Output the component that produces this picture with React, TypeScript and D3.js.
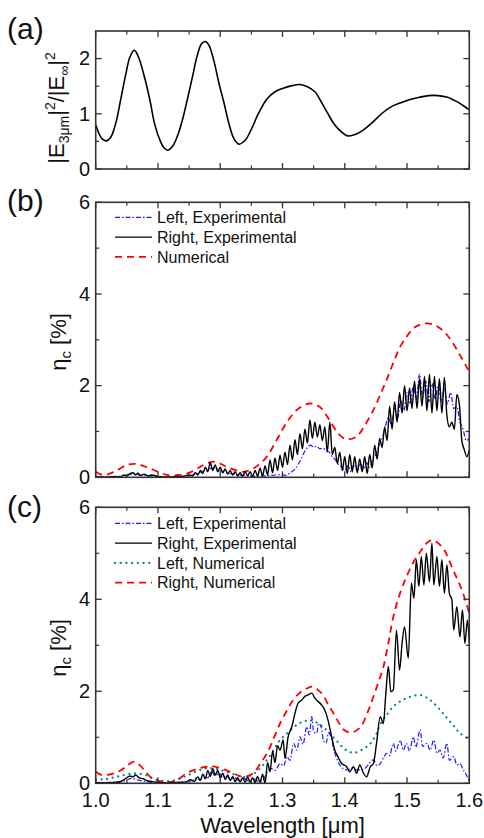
import React from 'react';
import * as d3 from 'd3';

const FONT = '"Liberation Sans", Arial, Helvetica, sans-serif';

// shared x axis (wavelength, um)
const xDomain: [number, number] = [1.0, 1.6];
const xMajorTicks = [1.0, 1.1, 1.2, 1.3, 1.4, 1.5, 1.6];
const xMinorTicks = [1.05, 1.15, 1.25, 1.35, 1.45, 1.55];
const xTickLabels = ['1.0', '1.1', '1.2', '1.3', '1.4', '1.5', '1.6'];

// (a) field enhancement
const fieldTicks = [0, 1, 2];
const fieldMinor = [0.5, 1.5];
const fieldCurve: [number, number][] = [
  [1.000, 0.80], [1.005, 0.65], [1.010, 0.55], [1.017, 0.51], [1.024, 0.57], [1.032, 0.82],
  [1.040, 1.25], [1.048, 1.70], [1.055, 2.03], [1.062, 2.15], [1.069, 2.02], [1.078, 1.68],
  [1.087, 1.25], [1.095, 0.80], [1.104, 0.50], [1.110, 0.38], [1.116, 0.34], [1.124, 0.42],
  [1.132, 0.62], [1.140, 0.92], [1.147, 1.25], [1.155, 1.65], [1.163, 2.05], [1.170, 2.27],
  [1.176, 2.31], [1.182, 2.24], [1.190, 1.95], [1.198, 1.55], [1.206, 1.20], [1.214, 0.82],
  [1.222, 0.55], [1.230, 0.45], [1.240, 0.52], [1.250, 0.72], [1.262, 1.02], [1.275, 1.27],
  [1.288, 1.40], [1.300, 1.46], [1.315, 1.51], [1.328, 1.53], [1.340, 1.49], [1.352, 1.40],
  [1.362, 1.22], [1.372, 1.02], [1.382, 0.83], [1.392, 0.70], [1.405, 0.60], [1.418, 0.63],
  [1.430, 0.71], [1.445, 0.85], [1.460, 1.01], [1.475, 1.13], [1.490, 1.20], [1.505, 1.26],
  [1.520, 1.30], [1.535, 1.33], [1.550, 1.33], [1.565, 1.30], [1.580, 1.22], [1.590, 1.15],
  [1.600, 1.07],
];

// (b) and (c) efficiency, %
const etaTicks = [0, 2, 4, 6];
const etaMinor = [1, 3, 5];

const bNumerical: [number, number][] = [
  [1.000, 0.12], [1.012, 0.05], [1.030, 0.12], [1.050, 0.27], [1.066, 0.29], [1.080, 0.23],
  [1.093, 0.16], [1.105, 0.09], [1.119, 0.04], [1.132, 0.05], [1.146, 0.08], [1.158, 0.15],
  [1.168, 0.23], [1.180, 0.31], [1.189, 0.34], [1.200, 0.30], [1.210, 0.23], [1.224, 0.16],
  [1.237, 0.12], [1.253, 0.19], [1.264, 0.30], [1.275, 0.45], [1.288, 0.75], [1.301, 1.07],
  [1.312, 1.30], [1.323, 1.47], [1.334, 1.57], [1.344, 1.61], [1.354, 1.58], [1.363, 1.50],
  [1.372, 1.32], [1.382, 1.10], [1.392, 0.92], [1.403, 0.83], [1.419, 0.89], [1.432, 1.13],
  [1.446, 1.47], [1.457, 1.80], [1.467, 2.12], [1.478, 2.50], [1.489, 2.85], [1.500, 3.08],
  [1.510, 3.25], [1.521, 3.33], [1.532, 3.36], [1.543, 3.33], [1.553, 3.25], [1.564, 3.11],
  [1.574, 2.92], [1.587, 2.62], [1.600, 2.30],
];

const bRightExp: [number, number][] = [
  [1.000, 0.00], [1.010, 0.01], [1.020, 0.00], [1.030, 0.02], [1.040, 0.01], [1.045, 0.05],
  [1.050, 0.03], [1.055, 0.08], [1.060, 0.10], [1.064, 0.05], [1.068, 0.09], [1.072, 0.04],
  [1.078, 0.07], [1.084, 0.03], [1.090, 0.05], [1.100, 0.02], [1.110, 0.01], [1.120, 0.01],
  [1.130, 0.02], [1.140, 0.02], [1.150, 0.05], [1.155, 0.03], [1.160, 0.10], [1.164, 0.05],
  [1.168, 0.15], [1.172, 0.08], [1.176, 0.22], [1.180, 0.12], [1.184, 0.32], [1.188, 0.15],
  [1.192, 0.27], [1.196, 0.12], [1.200, 0.22], [1.204, 0.10], [1.208, 0.18], [1.212, 0.07],
  [1.216, 0.15], [1.220, 0.05], [1.224, 0.12], [1.228, 0.03], [1.232, 0.10], [1.236, 0.02],
  [1.240, 0.13], [1.244, 0.03], [1.248, 0.12], [1.252, 0.02], [1.256, 0.15], [1.260, 0.02],
  [1.264, 0.20], [1.268, 0.03], [1.272, 0.25], [1.276, 0.05], [1.280, 0.38], [1.284, 0.10],
  [1.288, 0.42], [1.292, 0.15], [1.296, 0.48], [1.300, 0.22], [1.304, 0.55], [1.308, 0.28],
  [1.312, 0.70], [1.316, 0.38], [1.320, 0.82], [1.324, 0.50], [1.328, 0.95], [1.332, 0.62],
  [1.336, 1.05], [1.340, 0.75], [1.344, 1.25], [1.348, 0.85], [1.352, 1.20], [1.356, 0.88],
  [1.360, 1.15], [1.364, 0.80], [1.368, 1.10], [1.372, 0.55], [1.376, 1.20], [1.380, 0.50],
  [1.384, 0.65], [1.388, 0.30], [1.392, 0.55], [1.396, 0.15], [1.400, 0.45], [1.404, 0.08],
  [1.408, 0.50], [1.412, 0.12], [1.416, 0.45], [1.420, 0.10], [1.424, 0.40], [1.428, 0.12],
  [1.432, 0.45], [1.436, 0.08], [1.440, 0.50], [1.444, 0.20], [1.448, 0.70], [1.452, 0.40],
  [1.456, 0.85], [1.460, 0.65], [1.464, 1.10], [1.468, 0.80], [1.472, 1.55], [1.476, 1.05],
  [1.480, 1.65], [1.484, 1.20], [1.488, 1.85], [1.492, 1.40], [1.496, 2.00], [1.500, 1.45],
  [1.504, 1.95], [1.508, 1.50], [1.512, 2.10], [1.516, 1.50], [1.520, 2.15], [1.524, 1.55],
  [1.528, 2.20], [1.532, 1.45], [1.536, 2.25], [1.540, 1.40], [1.544, 2.20], [1.548, 1.45],
  [1.552, 2.15], [1.556, 1.40], [1.560, 2.18], [1.564, 1.35], [1.568, 1.10], [1.572, 1.20],
  [1.576, 1.05], [1.580, 1.80], [1.584, 1.60], [1.588, 0.80], [1.592, 0.60], [1.596, 0.45],
  [1.600, 0.60],
];

const bLeftExp: [number, number][] = [
  [1.000, 0.00], [1.020, 0.01], [1.040, 0.02], [1.050, 0.05], [1.060, 0.07], [1.070, 0.05],
  [1.080, 0.04], [1.090, 0.03], [1.100, 0.01], [1.120, 0.00], [1.140, 0.02], [1.150, 0.04],
  [1.160, 0.06], [1.170, 0.12], [1.180, 0.18], [1.190, 0.20], [1.200, 0.15], [1.210, 0.10],
  [1.220, 0.07], [1.230, 0.05], [1.240, 0.04], [1.250, 0.03], [1.260, 0.02], [1.270, 0.03],
  [1.280, 0.04], [1.290, 0.05], [1.300, 0.06], [1.305, 0.04], [1.310, 0.08], [1.315, 0.12],
  [1.320, 0.18], [1.325, 0.28], [1.330, 0.40], [1.335, 0.55], [1.340, 0.65], [1.345, 0.70],
  [1.350, 0.66], [1.355, 0.68], [1.360, 0.62], [1.365, 0.64], [1.370, 0.58], [1.375, 0.55],
  [1.380, 0.45], [1.385, 0.38], [1.390, 0.28], [1.395, 0.22], [1.400, 0.15], [1.405, 0.25],
  [1.410, 0.12], [1.415, 0.28], [1.420, 0.15], [1.425, 0.30], [1.430, 0.18], [1.435, 0.32],
  [1.440, 0.22], [1.445, 0.40], [1.450, 0.50], [1.455, 0.70], [1.460, 0.85], [1.465, 1.10],
  [1.470, 1.30], [1.475, 1.15], [1.480, 1.50], [1.485, 1.30], [1.490, 1.70], [1.495, 1.45],
  [1.500, 1.85], [1.505, 1.60], [1.510, 2.00], [1.515, 1.70], [1.520, 2.25], [1.525, 1.75],
  [1.530, 2.10], [1.535, 1.65], [1.540, 2.05], [1.545, 1.70], [1.550, 2.00], [1.555, 1.65],
  [1.560, 1.95], [1.565, 1.60], [1.570, 1.85], [1.575, 1.50], [1.580, 1.55], [1.585, 1.20],
  [1.590, 1.05], [1.595, 0.80], [1.600, 0.85],
];

const cRightNum: [number, number][] = [
  [1.000, 0.25], [1.010, 0.18], [1.025, 0.20], [1.040, 0.28], [1.052, 0.40], [1.062, 0.47],
  [1.072, 0.38], [1.082, 0.22], [1.092, 0.09], [1.105, 0.04], [1.120, 0.03], [1.134, 0.10],
  [1.146, 0.22], [1.162, 0.31], [1.178, 0.36], [1.189, 0.37], [1.202, 0.32], [1.216, 0.25],
  [1.237, 0.14], [1.253, 0.22], [1.264, 0.42], [1.275, 0.65], [1.286, 0.98], [1.296, 1.30],
  [1.307, 1.58], [1.317, 1.81], [1.328, 1.97], [1.339, 2.06], [1.347, 2.10], [1.356, 2.04],
  [1.365, 1.92], [1.373, 1.72], [1.382, 1.52], [1.390, 1.33], [1.398, 1.17], [1.410, 1.10],
  [1.425, 1.22], [1.436, 1.52], [1.446, 1.88], [1.454, 2.20], [1.462, 2.53], [1.470, 3.05],
  [1.478, 3.62], [1.488, 4.10], [1.499, 4.49], [1.510, 4.80], [1.521, 5.03], [1.530, 5.20],
  [1.539, 5.29], [1.548, 5.24], [1.558, 5.11], [1.566, 4.90], [1.574, 4.64], [1.582, 4.40],
  [1.590, 4.13], [1.600, 3.69],
];

const cLeftNum: [number, number][] = [
  [1.000, 0.08], [1.015, 0.09], [1.030, 0.13], [1.045, 0.18], [1.058, 0.21], [1.070, 0.21],
  [1.082, 0.17], [1.095, 0.09], [1.110, 0.05], [1.125, 0.06], [1.140, 0.13], [1.155, 0.22],
  [1.170, 0.30], [1.182, 0.33], [1.195, 0.31], [1.210, 0.25], [1.225, 0.18], [1.237, 0.14],
  [1.250, 0.18], [1.262, 0.30], [1.275, 0.50], [1.287, 0.75], [1.296, 0.94], [1.307, 1.08],
  [1.318, 1.22], [1.328, 1.31], [1.338, 1.36], [1.347, 1.37], [1.357, 1.30], [1.366, 1.22],
  [1.376, 1.08], [1.386, 0.94], [1.397, 0.78], [1.408, 0.68], [1.418, 0.67], [1.430, 0.75],
  [1.440, 0.85], [1.450, 1.05], [1.457, 1.28], [1.468, 1.50], [1.478, 1.67], [1.489, 1.78],
  [1.499, 1.85], [1.510, 1.90], [1.521, 1.92], [1.532, 1.86], [1.543, 1.74], [1.554, 1.58],
  [1.564, 1.42], [1.575, 1.25], [1.585, 1.09], [1.600, 0.95],
];

const cRightExp: [number, number][] = [
  [1.000, 0.02], [1.015, 0.01], [1.030, 0.02], [1.040, 0.04], [1.048, 0.10], [1.055, 0.16],
  [1.060, 0.14], [1.064, 0.18], [1.070, 0.12], [1.076, 0.10], [1.082, 0.06], [1.090, 0.04],
  [1.100, 0.02], [1.115, 0.01], [1.130, 0.02], [1.145, 0.03], [1.152, 0.08], [1.158, 0.04],
  [1.164, 0.14], [1.168, 0.06], [1.172, 0.20], [1.176, 0.10], [1.180, 0.28], [1.184, 0.15],
  [1.188, 0.32], [1.192, 0.18], [1.196, 0.28], [1.200, 0.12], [1.204, 0.22], [1.208, 0.08],
  [1.212, 0.18], [1.216, 0.06], [1.220, 0.15], [1.224, 0.04], [1.228, 0.12], [1.232, 0.03],
  [1.236, 0.12], [1.240, 0.02], [1.244, 0.14], [1.248, 0.02], [1.252, 0.12], [1.256, 0.01],
  [1.260, 0.15], [1.264, 0.02], [1.268, 0.20], [1.272, 0.00], [1.276, 0.45], [1.280, 0.25],
  [1.284, 0.70], [1.288, 0.45], [1.292, 0.82], [1.296, 0.72], [1.301, 0.94], [1.304, 0.54],
  [1.309, 1.01], [1.315, 1.23], [1.320, 1.52], [1.325, 1.74], [1.331, 1.81], [1.336, 1.89],
  [1.341, 1.92], [1.347, 1.96], [1.352, 1.85], [1.357, 1.78], [1.363, 1.70], [1.368, 1.59],
  [1.373, 1.38], [1.379, 1.01], [1.384, 0.72], [1.389, 0.58], [1.395, 0.43], [1.403, 0.36],
  [1.408, 0.25], [1.414, 0.36], [1.419, 0.22], [1.424, 0.40], [1.430, 0.22], [1.435, 0.14],
  [1.441, 0.36], [1.446, 0.43], [1.451, 0.87], [1.457, 1.45], [1.462, 1.30], [1.466, 1.96],
  [1.470, 2.54], [1.474, 1.99], [1.478, 2.03], [1.483, 3.33], [1.488, 2.46], [1.492, 3.04],
  [1.496, 3.40], [1.502, 2.72], [1.507, 4.35], [1.511, 4.02], [1.515, 4.86], [1.519, 4.28],
  [1.523, 4.93], [1.527, 4.31], [1.531, 5.00], [1.536, 4.38], [1.540, 5.22], [1.543, 4.31],
  [1.548, 4.93], [1.552, 4.28], [1.556, 4.86], [1.560, 4.13], [1.564, 4.75], [1.568, 4.13],
  [1.572, 3.99], [1.575, 3.33], [1.580, 3.84], [1.585, 3.18], [1.589, 3.77], [1.593, 3.04],
  [1.597, 3.55], [1.600, 3.04],
];

const cLeftExp: [number, number][] = [
  [1.000, 0.01], [1.020, 0.02], [1.040, 0.03], [1.050, 0.07], [1.058, 0.11], [1.065, 0.08],
  [1.072, 0.06], [1.085, 0.03], [1.100, 0.01], [1.120, 0.01], [1.140, 0.02], [1.155, 0.06],
  [1.162, 0.12], [1.168, 0.08], [1.174, 0.18], [1.180, 0.12], [1.186, 0.26], [1.192, 0.16],
  [1.198, 0.22], [1.204, 0.12], [1.210, 0.17], [1.216, 0.08], [1.222, 0.13], [1.230, 0.06],
  [1.238, 0.10], [1.246, 0.05], [1.254, 0.09], [1.262, 0.04], [1.270, 0.10], [1.276, 0.25],
  [1.282, 0.32], [1.288, 0.28], [1.296, 0.43], [1.302, 0.38], [1.307, 0.58], [1.312, 0.50],
  [1.318, 0.87], [1.323, 0.72], [1.328, 1.01], [1.333, 0.85], [1.339, 1.23], [1.343, 1.05],
  [1.347, 1.45], [1.350, 1.12], [1.355, 1.09], [1.358, 1.30], [1.362, 1.23], [1.366, 0.92],
  [1.370, 0.87], [1.374, 1.10], [1.378, 1.01], [1.383, 0.70], [1.386, 0.58], [1.394, 0.36],
  [1.403, 0.29], [1.412, 0.33], [1.419, 0.29], [1.430, 0.30], [1.435, 0.36], [1.446, 0.51],
  [1.452, 0.38], [1.457, 0.43], [1.462, 0.55], [1.467, 0.65], [1.472, 0.60], [1.478, 0.87],
  [1.482, 0.70], [1.489, 0.94], [1.494, 0.72], [1.499, 0.87], [1.504, 0.70], [1.510, 1.01],
  [1.514, 0.78], [1.521, 1.16], [1.525, 0.80], [1.532, 0.87], [1.537, 0.72], [1.543, 0.94],
  [1.548, 0.65], [1.553, 0.72], [1.558, 0.55], [1.564, 0.87], [1.568, 0.50], [1.575, 0.58],
  [1.580, 0.40], [1.585, 0.43], [1.590, 0.30], [1.594, 0.22], [1.598, 0.10], [1.600, 0.04],
];

type Series = {
  name: string;
  data: [number, number][];
  color: string;
  width: number;
  dash?: string;
  smooth?: boolean;
  cap?: 'round' | 'butt';
};

const LEFT = 95.7;
const RIGHT = 469.3;

const blueDash = '5,2,1.5,2';
const redDash = '7,5';
const tealDash = '0.1,5.6';

const panelB: Series[] = [
  { name: 'Left, Experimental', data: bLeftExp, color: '#1a1aff', width: 1.2, dash: blueDash },
  { name: 'Right, Experimental', data: bRightExp, color: '#000000', width: 1.4 },
  { name: 'Numerical', data: bNumerical, color: '#ff0000', width: 1.8, dash: redDash, smooth: true },
];

const panelC: Series[] = [
  { name: 'Left, Experimental', data: cLeftExp, color: '#1a1aff', width: 1.2, dash: blueDash },
  { name: 'Right, Experimental', data: cRightExp, color: '#000000', width: 1.4 },
  { name: 'Left, Numerical', data: cLeftNum, color: '#008b8b', width: 2.2, dash: tealDash, smooth: true, cap: 'round' },
  { name: 'Right, Numerical', data: cRightNum, color: '#ff0000', width: 1.8, dash: redDash, smooth: true },
];

type PanelProps = {
  id: string;
  top: number;
  bottom: number;
  yMax: number;
  yTicks: number[];
  yMinor: number[];
  series: Series[];
  drawOrder: number[];
  legend: boolean;
  legendTop: number;
  xLabels: boolean;
  letter: string;
  letterY: number;
  yTitle: React.ReactNode;
  yTitleX: number;
  yTitleY: number;
};

const Panel = (p: PanelProps) => {
  const x = d3.scaleLinear().domain(xDomain).range([LEFT, RIGHT]);
  const y = d3.scaleLinear().domain([0, p.yMax]).range([p.bottom, p.top]);
  const major = 6;
  const minor = 3.5;
  const axisColor = '#333';

  return (
    <g>
      <defs>
        <clipPath id={`clip-${p.id}`}>
          <rect x={LEFT} y={p.top} width={RIGHT - LEFT} height={p.bottom - p.top} />
        </clipPath>
      </defs>

      {/* data */}
      <g clipPath={`url(#clip-${p.id})`}>
        {p.drawOrder.map(i => {
          const s = p.series[i];
          const line = d3
            .line<[number, number]>()
            .x(d => x(d[0]))
            .y(d => y(d[1]))
            .curve(s.smooth ? d3.curveCatmullRom.alpha(0.5) : d3.curveMonotoneX);
          return (
            <path
              key={s.name}
              d={line(s.data) || ''}
              fill="none"
              stroke={s.color}
              strokeWidth={s.width}
              strokeDasharray={s.dash}
              strokeLinecap={s.cap || 'butt'}
              strokeLinejoin="round"
            />
          );
        })}
      </g>

      {/* frame */}
      <rect
        x={LEFT}
        y={p.top}
        width={RIGHT - LEFT}
        height={p.bottom - p.top}
        fill="none"
        stroke={axisColor}
        strokeWidth={1.6}
      />

      {/* x ticks, inward on bottom and top */}
      {xMajorTicks.map(t => (
        <g key={`xm${t}`} stroke={axisColor} strokeWidth={1.3}>
          <line x1={x(t)} x2={x(t)} y1={p.bottom} y2={p.bottom - major} />
          <line x1={x(t)} x2={x(t)} y1={p.top} y2={p.top + major} />
        </g>
      ))}
      {xMinorTicks.map(t => (
        <g key={`xn${t}`} stroke={axisColor} strokeWidth={1.2}>
          <line x1={x(t)} x2={x(t)} y1={p.bottom} y2={p.bottom - minor} />
          <line x1={x(t)} x2={x(t)} y1={p.top} y2={p.top + minor} />
        </g>
      ))}

      {/* y ticks, inward on left and right */}
      {p.yTicks.map(t => (
        <g key={`ym${t}`} stroke={axisColor} strokeWidth={1.3}>
          <line x1={LEFT} x2={LEFT + major} y1={y(t)} y2={y(t)} />
          <line x1={RIGHT} x2={RIGHT - major} y1={y(t)} y2={y(t)} />
        </g>
      ))}
      {p.yMinor.map(t => (
        <g key={`yn${t}`} stroke={axisColor} strokeWidth={1.2}>
          <line x1={LEFT} x2={LEFT + minor} y1={y(t)} y2={y(t)} />
          <line x1={RIGHT} x2={RIGHT - minor} y1={y(t)} y2={y(t)} />
        </g>
      ))}

      {/* y tick labels */}
      {p.yTicks.map(t => (
        <text key={`yl${t}`} x={90} y={y(t)} dy="0.34em" textAnchor="end" fontSize={20} fill="#111">
          {t}
        </text>
      ))}

      {/* x tick labels */}
      {p.xLabels &&
        xMajorTicks.map((t, i) => (
          <text key={`xl${t}`} x={x(t)} y={807} textAnchor="middle" fontSize={20} fill="#111">
            {xTickLabels[i]}
          </text>
        ))}

      {/* y title */}
      <text
        transform={`translate(${p.yTitleX},${p.yTitleY}) rotate(-90)`}
        textAnchor="middle"
        dy="0.35em"
        fontSize={22}
        fill="#111"
      >
        {p.yTitle}
      </text>

      {/* panel letter */}
      <text x={7} y={p.letterY} fontSize={30} fill="#111">
        {p.letter}
      </text>

      {/* legend */}
      {p.legend &&
        p.series.map((s, i) => {
          const ly = p.legendTop + i * 19.8;
          return (
            <g key={`lg${s.name}`}>
              <line
                x1={115}
                x2={152}
                y1={ly}
                y2={ly}
                stroke={s.color}
                strokeWidth={s.width}
                strokeDasharray={s.dash}
                strokeLinecap={s.cap || 'butt'}
              />
              <text x={157} y={ly} dy="0.36em" fontSize={16} fill="#111">
                {s.name}
              </text>
            </g>
          );
        })}
    </g>
  );
};

const etaTitle = (
  <>
    <tspan>η</tspan>
    <tspan fontSize={15} dy="5">c</tspan>
    <tspan dy="-5"> [%]</tspan>
  </>
);

const fieldTitle = (
  <>
    <tspan>|E</tspan>
    <tspan fontSize={14} dy="5">3μm</tspan>
    <tspan dy="-5">|</tspan>
    <tspan fontSize={14} dy="-9">2</tspan>
    <tspan dy="9">/|E</tspan>
    <tspan fontSize={14} dy="5">∞</tspan>
    <tspan dy="-5">|</tspan>
    <tspan fontSize={14} dy="-9">2</tspan>
  </>
);

export default function App() {
  const fieldSeries: Series[] = [
    { name: 'field', data: fieldCurve, color: '#000', width: 1.6, smooth: true },
  ];
  return (
    <svg
      width={484}
      height={838}
      style={{ position: 'absolute', left: 0, top: 0, fontFamily: FONT, background: '#fff' }}
    >
      <rect width={484} height={838} fill="#fff" />
      <Panel
        id="a"
        top={31}
        bottom={169}
        yMax={2.5}
        yTicks={fieldTicks}
        yMinor={fieldMinor}
        series={fieldSeries}
        drawOrder={[0]}
        legend={false}
        legendTop={0}
        xLabels={false}
        letter="(a)"
        letterY={39}
        yTitle={fieldTitle}
        yTitleX={56}
        yTitleY={108}
      />
      <Panel
        id="b"
        top={202.3}
        bottom={477.3}
        yMax={6}
        yTicks={etaTicks}
        yMinor={etaMinor}
        series={panelB}
        drawOrder={[2, 0, 1]}
        legend={true}
        legendTop={217.3}
        xLabels={false}
        letter="(b)"
        letterY={211}
        yTitle={etaTitle}
        yTitleX={58}
        yTitleY={342}
      />
      <Panel
        id="c"
        top={507.3}
        bottom={783.3}
        yMax={6}
        yTicks={etaTicks}
        yMinor={etaMinor}
        series={panelC}
        drawOrder={[2, 3, 0, 1]}
        legend={true}
        legendTop={523.3}
        xLabels={true}
        letter="(c)"
        letterY={517}
        yTitle={etaTitle}
        yTitleX={58}
        yTitleY={648}
      />
      <text x={282.5} y={833} textAnchor="middle" fontSize={22} fill="#111">
        Wavelength [μm]
      </text>
    </svg>
  );
}
